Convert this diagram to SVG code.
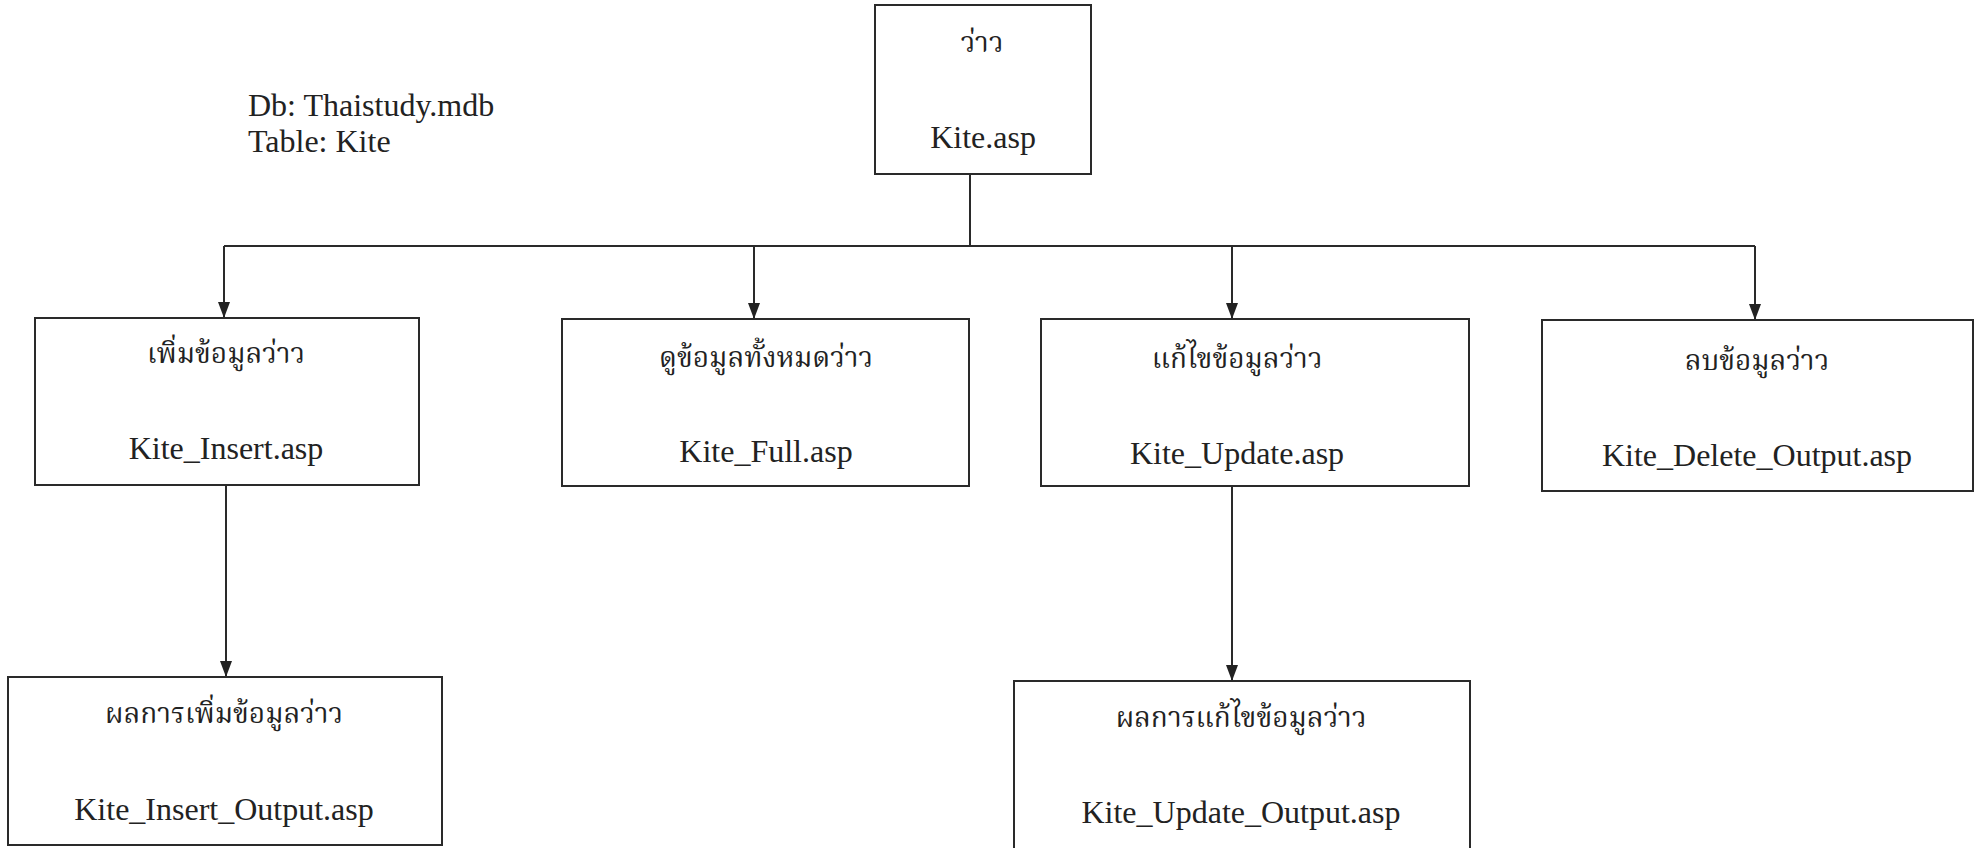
<svg xmlns="http://www.w3.org/2000/svg" width="1976" height="848" viewBox="0 0 1976 848">
<defs>
<marker id="ah" markerWidth="16" markerHeight="12" refX="16" refY="6" orient="auto" markerUnits="userSpaceOnUse" viewBox="0 0 16 12">
<path d="M0,0 L16,6 L0,12 Z" fill="#222"/>
</marker>
</defs>
<style>
.box{fill:#fff;stroke:#2a2a2a;stroke-width:2}
.ln{fill:none;stroke:#2a2a2a;stroke-width:2}
.en{font-family:"Liberation Serif","DejaVu Serif",serif;font-size:32px;fill:#222;text-anchor:middle}
.th{font-family:"Noto Serif Thai","Noto Sans Thai","Liberation Serif",serif;font-size:28px;fill:#222;text-anchor:middle}
.note{font-family:"Liberation Serif","DejaVu Serif",serif;font-size:32px;fill:#222}
</style>
<rect width="1976" height="848" fill="#fff"/>
<g id="connectors">
<line class="ln" x1="970" y1="174" x2="970" y2="246"/>
<line class="ln" x1="224" y1="246" x2="1755" y2="246"/>
<line class="ln" x1="224" y1="246" x2="224" y2="318" marker-end="url(#ah)"/>
<line class="ln" x1="754" y1="246" x2="754" y2="319" marker-end="url(#ah)"/>
<line class="ln" x1="1232" y1="246" x2="1232" y2="319" marker-end="url(#ah)"/>
<line class="ln" x1="1755" y1="246" x2="1755" y2="320" marker-end="url(#ah)"/>
<line class="ln" x1="226" y1="485" x2="226" y2="677" marker-end="url(#ah)"/>
<line class="ln" x1="1232" y1="486" x2="1232" y2="681" marker-end="url(#ah)"/>
</g>
<g id="note">
<text class="note" x="248" y="116">Db: Thaistudy.mdb</text>
<text class="note" x="248" y="152">Table: Kite</text>
</g>
<g id="node-kite">
<rect class="box" x="875" y="5" width="216" height="169"/>
<text class="th" x="982" y="52">ว่าว</text>
<text class="en" x="983" y="148">Kite.asp</text>
</g>
<g id="node-insert">
<rect class="box" x="35" y="318" width="384" height="167"/>
<text class="th" x="226" y="363">เพิ่มข้อมูลว่าว</text>
<text class="en" x="226" y="459">Kite_Insert.asp</text>
</g>
<g id="node-full">
<rect class="box" x="562" y="319" width="407" height="167"/>
<text class="th" x="766" y="367">ดูข้อมูลทั้งหมดว่าว</text>
<text class="en" x="766" y="462">Kite_Full.asp</text>
</g>
<g id="node-update">
<rect class="box" x="1041" y="319" width="428" height="167"/>
<text class="th" x="1237" y="368">แก้ไขข้อมูลว่าว</text>
<text class="en" x="1237" y="464">Kite_Update.asp</text>
</g>
<g id="node-delete">
<rect class="box" x="1542" y="320" width="431" height="171"/>
<text class="th" x="1757" y="370">ลบข้อมูลว่าว</text>
<text class="en" x="1757" y="466">Kite_Delete_Output.asp</text>
</g>
<g id="node-insert-output">
<rect class="box" x="8" y="677" width="434" height="168"/>
<text class="th" x="224" y="723">ผลการเพิ่มข้อมูลว่าว</text>
<text class="en" x="224" y="820">Kite_Insert_Output.asp</text>
</g>
<g id="node-update-output">
<rect class="box" x="1014" y="681" width="456" height="175"/>
<text class="th" x="1241" y="727">ผลการแก้ไขข้อมูลว่าว</text>
<text class="en" x="1241" y="823">Kite_Update_Output.asp</text>
</g>
</svg>
